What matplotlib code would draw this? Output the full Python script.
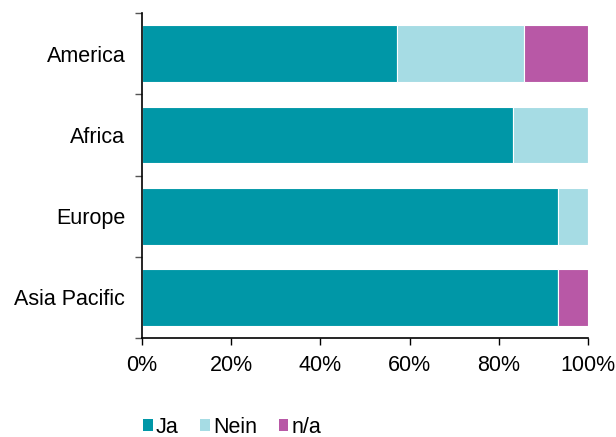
import numpy as np
import matplotlib.pyplot as plt
from matplotlib.patches import Patch
from matplotlib.ticker import FixedLocator, PercentFormatter

plt.rcParams['font.family'] = ['Liberation Sans', 'DejaVu Sans']

regions = ["America", "Africa", "Europe", "Asia Pacific"]
ja = [57.1, 83.3, 93.3, 93.3]
nein = [28.6, 16.7, 6.7, 0.0]
na = [14.3, 0.0, 0.0, 6.7]

series = ["Ja", "Nein", "n/a"]
colors = ["#0097a7", "#a6dce4", "#b858a6"]

fig = plt.figure(figsize=(6.16, 4.37), dpi=100)
ax = fig.add_axes([0.2305, 0.2265, 0.724, 0.7435])

y = np.arange(len(regions))[::-1]
left = np.zeros(len(regions))
for vals, col in zip([ja, nein, na], colors):
    vals = np.array(vals)
    ax.barh(y, vals, left=left, height=0.7, color=col,
            edgecolor="white", linewidth=0.8)
    left += vals

ax.set_xlim(0, 100)
ax.set_ylim(-0.5, 3.5)
ax.set_xticks(np.arange(0, 101, 20))
ax.xaxis.set_major_formatter(PercentFormatter(decimals=0))
ax.set_yticks(y)
ax.set_yticklabels(regions)
ax.yaxis.set_minor_locator(FixedLocator(np.arange(-0.5, 3.6, 1)))
ax.tick_params(axis="y", which="major", length=0, pad=12, labelsize=15.5)
ax.tick_params(axis="y", which="minor", length=5, width=1, color="#555555")
ax.tick_params(axis="x", length=5, width=1, pad=7, labelsize=15.5)

for s in ["top", "right"]:
    ax.spines[s].set_visible(False)
for s in ["left", "bottom"]:
    ax.spines[s].set_linewidth(1.2)

handles = [Patch(facecolor=c, edgecolor="none") for c in colors]
fig.legend(handles, series, loc="center", bbox_to_anchor=(0.377, 0.022),
           ncol=3, frameon=False, fontsize=15.5, handlelength=0.45,
           handleheight=0.45, handletextpad=0.15, columnspacing=1.0,
           borderpad=0)

fig.savefig("out.png", dpi=100)
